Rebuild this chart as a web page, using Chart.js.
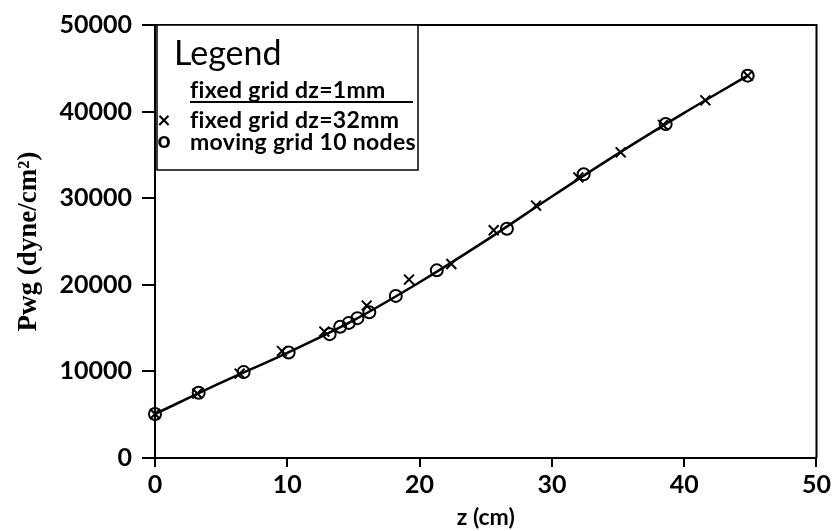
<!DOCTYPE html>
<html>
<head>
<meta charset="utf-8">
<script src="https://cdn.jsdelivr.net/npm/chart.js@4.4.1/dist/chart.umd.min.js"></script>
<style>
    html, body { margin: 0; padding: 0; background: #fff; }
    #wrap { width: 834px; height: 531px; }
</style>
</head>
<body>
<div id="wrap"><canvas id="graficoPwg" width="834" height="531"></canvas></div>
<script>
'use strict';

const zLinha = [0, 5, 10, 15, 20, 25, 30, 35, 40, 44.8];
const pLinha = [5080, 8700, 12150, 15900, 20300, 25100, 30200, 35150, 39850, 44150];

// fixed grid dz=32mm
const zCruz = [0, 3.2, 6.4, 9.6, 12.8, 16.0, 19.2, 22.4, 25.6, 28.8, 32.0, 35.2, 38.4, 41.6, 44.8];
const pCruz = [5080, 7450, 9750, 12350, 14600, 17600, 20600, 22400, 26300, 29150, 32400, 35300, 38450, 41300, 44150];

// moving grid 10 nodes
const zCirculo = [0, 3.3, 6.7, 10.1, 13.2, 14.0, 14.65, 15.3, 16.2, 18.2, 21.3, 26.6, 32.4, 38.6, 44.8];
const pCirculo = [5080, 7530, 9920, 12190, 14300, 15150, 15600, 16150, 16820, 18720, 21670, 26480, 32760, 38560, 44150];

const ticksX = [0, 10, 20, 30, 40, 50];
const ticksY = [0, 10000, 20000, 30000, 40000, 50000];

const tituloLegenda = 'Legend';
const legendas = ['fixed grid dz=1mm', 'fixed grid dz=32mm', 'moving grid 10 nodes'];
//========================================================================================

function juntaPontos(xs, ys) {
    return xs.map((x, i) => ({ x: x, y: ys[i] }));
};

// moldura de cima/direita + caixa da legenda
const moldura = {
    id: 'moldura',
    afterDraw(chart) {
        const { ctx, chartArea: a } = chart;
        ctx.save();
        ctx.strokeStyle = '#000';
        ctx.fillStyle = '#000';
        ctx.lineWidth = 2;
        ctx.beginPath();
        ctx.moveTo(a.left, a.top);
        ctx.lineTo(a.right, a.top);
        ctx.lineTo(a.right, a.bottom);
        ctx.stroke();

        // caixa
        ctx.lineWidth = 1.5;
        ctx.fillStyle = '#fff';
        ctx.fillRect(a.left + 2, a.top, 418 - a.left - 2, 170 - a.top);
        ctx.strokeRect(a.left + 2, a.top, 418 - a.left - 2, 170 - a.top);

        ctx.fillStyle = '#000';
        ctx.textBaseline = 'middle';
        ctx.textAlign = 'left';
        ctx.font = '400 34px Lato';
        ctx.fillText(tituloLegenda, 174, 54);

        ctx.font = '700 23px Lato';
        ctx.letterSpacing = '0.3px';
        ctx.fillText(legendas[0], 190, 91);
        ctx.lineWidth = 2;
        ctx.beginPath();
        ctx.moveTo(190, 102);
        ctx.lineTo(413, 102);
        ctx.stroke();

        ctx.fillText(legendas[1], 190, 121);
        ctx.fillText(legendas[2], 190, 143);
        ctx.letterSpacing = '0px';
        ctx.textAlign = 'center';
        ctx.fillText('\u00d7', 164, 121);
        ctx.fillText('o', 164, 141);
        ctx.restore();
    }
};
//========================================================================================

Chart.defaults.font.family = 'Lato';
Chart.defaults.color = '#000';

const graficoPwg = new Chart(document.getElementById('graficoPwg'), {
    type: 'scatter',
    data: {
        datasets: [{
            label: legendas[0],
            data: juntaPontos(zLinha, pLinha),
            showLine: true,
            borderColor: '#000',
            borderWidth: 2.5,
            pointRadius: 0,
            cubicInterpolationMode: 'monotone',
            clip: false
        }, {
            label: legendas[1],
            data: juntaPontos(zCruz, pCruz),
            pointStyle: 'crossRot',
            pointRadius: 7,
            borderColor: '#000',
            borderWidth: 2,
            clip: false
        }, {
            label: legendas[2],
            data: juntaPontos(zCirculo, pCirculo),
            pointStyle: 'circle',
            pointRadius: 6,
            backgroundColor: 'rgba(0,0,0,0)',
            borderColor: '#000',
            borderWidth: 2,
            clip: false
        }]
    },
    options: {
        responsive: false,
        animation: false,
        devicePixelRatio: 1,
        layout: { padding: { top: 21, right: 16, left: 0, bottom: 0 } },
        plugins: {
            legend: { display: false },
            tooltip: { enabled: false }
        },
        scales: {
            x: {
                type: 'linear',
                min: 0,
                max: 50,
                afterBuildTicks: (scale) => { scale.ticks = ticksX.map(v => ({ value: v })); },
                afterFit: (scale) => { scale.height = 73; },
                grid: { drawOnChartArea: false, drawTicks: true, tickLength: 9, color: '#000', lineWidth: 2 },
                border: { color: '#000', width: 2 },
                ticks: { font: { size: 25, weight: 'bold' }, padding: 3, maxRotation: 0 },
                title: { display: true, text: 'z (cm)', font: { size: 23, weight: 'bold' }, padding: { top: 0, bottom: 0 } }
            },
            y: {
                type: 'linear',
                min: 0,
                max: 50000,
                afterBuildTicks: (scale) => { scale.ticks = ticksY.map(v => ({ value: v })); },
                afterFit: (scale) => { scale.width = 155; },
                grid: { drawOnChartArea: false, drawTicks: true, tickLength: 13, color: '#000', lineWidth: 2 },
                border: { color: '#000', width: 2 },
                ticks: { font: { size: 25, weight: 'bold' }, padding: 10, callback: (v) => String(v) },
                title: {
                    display: true,
                    text: 'Pwg (dyne/cm\u00b2)',
                    font: { family: 'Liberation Serif', size: 27, weight: 'bold' },
                    padding: { top: 13, bottom: 0 }
                }
            }
        }
    },
    plugins: [moldura]
});
</script>
</body>
</html>
